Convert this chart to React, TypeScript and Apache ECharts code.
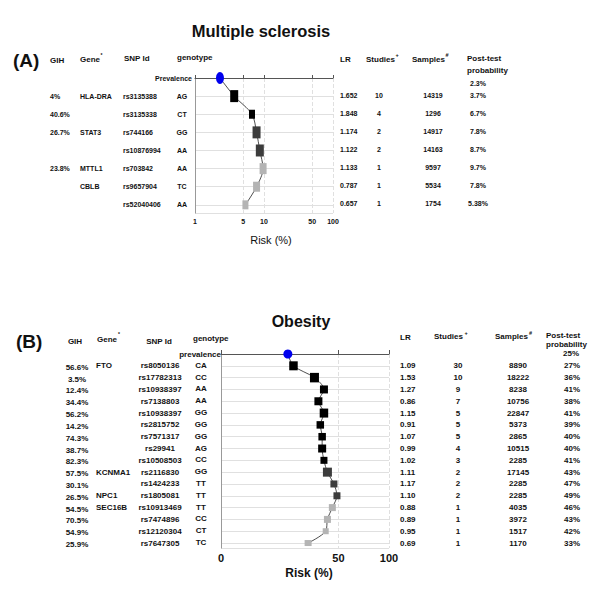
import React, { useEffect, useRef } from 'react';
import * as echarts from 'echarts';

// ---------- Panel A: Multiple sclerosis ----------
const msPrevalence = 2.3;
const msGIH = ['4%', '40.6%', '26.7%', '', '23.8%', '', ''];
const msGene = ['HLA-DRA', '', 'STAT3', '', 'MTTL1', 'CBLB', ''];
const msSNP = ['rs3135388', 'rs3135338', 'rs744166', 'rs10876994', 'rs703842', 'rs9657904', 'rs52040406'];
const msGenotype = ['AG', 'CT', 'GG', 'AA', 'AA', 'TC', 'AA'];
const msLR = ['1.652', '1.848', '1.174', '1.122', '1.133', '0.787', '0.657'];
const msStudies = [10, 4, 2, 2, 1, 1, 1];
const msSamples = [14319, 1296, 14917, 14163, 9597, 5534, 1754];
const msPost = [3.7, 6.7, 7.8, 8.7, 9.7, 7.8, 5.38];
const msTicks = [1, 5, 10, 50, 100];

// ---------- Panel B: Obesity ----------
const obPrevalence = 25;
const obGIH = ['56.6%', '3.5%', '12.4%', '34.4%', '56.2%', '14.2%', '74.3%', '38.7%', '82.3%', '57.5%', '30.1%', '26.5%', '54.5%', '70.5%', '54.9%', '25.9%'];
const obGene = ['FTO', '', '', '', '', '', '', '', '', 'KCNMA1', '', 'NPC1', 'SEC16B', '', '', ''];
const obSNP = ['rs8050136', 'rs17782313', 'rs10938397', 'rs7138803', 'rs10938397', 'rs2815752', 'rs7571317', 'rs29941', 'rs10508503', 'rs2116830', 'rs1424233', 'rs1805081', 'rs10913469', 'rs7474896', 'rs12120304', 'rs7647305'];
const obGenotype = ['CA', 'CC', 'AA', 'AA', 'GG', 'GG', 'GG', 'AG', 'CC', 'GG', 'TT', 'TT', 'TT', 'CC', 'CT', 'TC'];
const obLR = ['1.09', '1.53', '1.27', '0.86', '1.15', '0.91', '1.07', '0.99', '1.02', '1.11', '1.17', '1.10', '0.88', '0.89', '0.95', '0.69'];
const obStudies = [30, 10, 9, 7, 5, 5, 5, 4, 3, 2, 2, 2, 1, 1, 1, 1];
const obSamples = [8890, 18222, 8238, 10756, 22847, 5373, 2865, 10515, 2285, 17145, 2285, 2285, 4035, 3972, 1517, 1170];
const obPost = [27, 36, 41, 38, 41, 39, 40, 40, 41, 43, 47, 49, 46, 43, 42, 33];
const obTicks = [10, 50, 100];

// ---------- marker styling (prevalence first) ----------
const msShade = ['blue', 'black', 'black', 'dark', 'dark', 'light', 'light', 'light'];
const msMarkW = [8, 8, 6, 8, 8, 7, 7, 6];
const msMarkH = [12, 12, 9, 12, 12, 11, 10, 9];
const obShade = ['blue', 'black', 'black', 'black', 'black', 'black', 'black', 'black', 'black', 'black', 'dark', 'dark', 'dark', 'light', 'light', 'light', 'light'];
const obMarkW = [9, 8.5, 9, 8, 8, 8.5, 7.5, 7.5, 8, 7, 9, 7, 7, 7, 7, 6, 7];
const obMarkH = [9, 9, 9.5, 8, 8, 9, 7.5, 7.5, 8, 7, 9, 7, 7, 7, 7, 6, 6];

const SHADE: Record<string, string> = { blue: '#0000ee', black: '#000000', dark: '#3c3c3c', light: '#b4b4b4' };
const FONT = '"Liberation Sans", Arial, sans-serif';

// layout
const A = { left: 195, top: 78, width: 138, height: 135, ymax: 7.45 };
const B = { left: 221, top: 354, width: 168, height: 194, ymax: 16.42 };

function txt(x: number, y: number, text: string, size: number, align = 'left', weight = 'bold', color = '#111') {
  return {
    type: 'text',
    x,
    y,
    silent: true,
    style: {
      text,
      font: `${weight} ${size}px ${FONT}`,
      fill: color,
      align,
      verticalAlign: 'middle',
      textAlign: align,
      textVerticalAlign: 'middle',
    },
  };
}

function buildPoints(prev: number, post: number[], shade: string[], w: number[], h: number[]) {
  return [prev, ...post].map((v, i) => ({
    value: [v, i],
    symbol: i === 0 ? 'circle' : 'rect',
    symbolSize: [w[i], h[i]],
    itemStyle: { color: SHADE[shade[i]], opacity: 1 },
  }));
}

export default function App() {
  const ref = useRef<HTMLDivElement>(null);

  useEffect(() => {
    const chart = echarts.init(ref.current!, null, { renderer: 'svg' });

    const rowA = (i: number) => A.top + (i * A.height) / A.ymax;
    const rowB = (i: number) => B.top + (i * B.height) / B.ymax;

    const g: any[] = [];
    // titles
    g.push(txt(261, 31, 'Multiple sclerosis', 16.5, 'center'));
    g.push(txt(301, 321, 'Obesity', 16, 'center'));
    g.push(txt(13, 60, '(A)', 19));
    g.push(txt(16, 341, '(B)', 19));

    // ---- panel A headers ----
    g.push(txt(50, 60, 'GIH', 8));
    g.push(txt(80, 59, 'Gene', 8));
    g.push(txt(100.5, 55, '*', 5));
    g.push(txt(124, 58, 'SNP Id', 8));
    g.push(txt(177, 57, 'genotype', 8));
    g.push(txt(340, 59, 'LR', 8));
    g.push(txt(366, 59, 'Studies', 8));
    g.push(txt(395.5, 55, '+', 5.5));
    g.push(txt(412, 59, 'Samples', 8));
    g.push(txt(445.5, 55, '#', 5.5));
    g.push(txt(467, 58, 'Post-test', 8));
    g.push(txt(467, 70, 'probability', 8));
    g.push(txt(192, rowA(0), 'Prevalence', 7, 'right'));
    g.push(txt(478, rowA(0) + 5, `${msPrevalence}%`, 7, 'center'));
    msSNP.forEach((snp, k) => {
      const y = rowA(k + 1);
      if (msGIH[k]) g.push(txt(50, y, msGIH[k], 7));
      if (msGene[k]) g.push(txt(80, y, msGene[k], 7));
      g.push(txt(123, y, snp, 7));
      g.push(txt(182, y, msGenotype[k], 7, 'center'));
      g.push(txt(340, y - 1, msLR[k], 7));
      g.push(txt(379, y - 1, String(msStudies[k]), 7, 'center'));
      g.push(txt(433, y - 1, String(msSamples[k]), 7, 'center'));
      g.push(txt(478, y - 1, `${msPost[k]}%`, 7, 'center'));
    });
    g.push(txt(271, 240, 'Risk (%)', 11, 'center', 'normal'));

    // ---- panel B headers ----
    g.push(txt(75, 341, 'GIH', 8, 'center'));
    g.push(txt(97, 339, 'Gene', 8));
    g.push(txt(118, 334, '*', 5));
    g.push(txt(159, 341, 'SNP Id', 8, 'center'));
    g.push(txt(193, 338, 'genotype', 8));
    g.push(txt(400, 337, 'LR', 8));
    g.push(txt(434, 336, 'Studies', 8));
    g.push(txt(464.5, 333, '+', 5.5));
    g.push(txt(495, 336, 'Samples', 8));
    g.push(txt(529, 333, '#', 5.5));
    g.push(txt(546, 335, 'Post-test', 8));
    g.push(txt(546, 344, 'probability', 8));
    g.push(txt(221, rowB(0), 'prevalence', 8, 'right'));
    g.push(txt(571, rowB(0) - 1, `${obPrevalence}%`, 8, 'center'));
    obSNP.forEach((snp, k) => {
      const y = rowB(k + 1);
      g.push(txt(77, y + 1.5, obGIH[k], 8, 'center'));
      if (obGene[k]) g.push(txt(96, y, obGene[k], 8));
      g.push(txt(160, y, snp, 8, 'center'));
      g.push(txt(201, y - 0.5, obGenotype[k], 8, 'center'));
      g.push(txt(400, y, obLR[k], 8));
      g.push(txt(458, y, String(obStudies[k]), 8, 'center'));
      g.push(txt(518, y, String(obSamples[k]), 8, 'center'));
      g.push(txt(572, y, `${obPost[k]}%`, 8, 'center'));
    });
    g.push(txt(309, 573, 'Risk (%)', 12, 'center'));

    const yAxisCommon = (gridIndex: number, ymax: number) => ({
      type: 'value',
      gridIndex,
      inverse: true,
      min: 0,
      max: ymax,
      interval: 1,
      axisLabel: { show: false },
      axisTick: { show: false },
      axisLine: { show: true, lineStyle: { color: '#999', width: 1 } },
      splitLine: { show: true, lineStyle: { color: '#e0e0e0', width: 1 } },
    });

    const option: any = {
      animation: false,
      backgroundColor: '#ffffff',
      grid: [
        { left: A.left, top: A.top, width: A.width, height: A.height },
        { left: B.left, top: B.top, width: B.width, height: B.height },
      ],
      xAxis: [
        {
          type: 'log',
          gridIndex: 0,
          logBase: 10,
          min: 1,
          max: 100,
          axisLine: { show: true, lineStyle: { color: '#555', width: 1 } },
          axisTick: { show: true, inside: true, length: 3, customValues: msTicks, lineStyle: { color: '#555' } },
          axisLabel: {
            customValues: msTicks,
            fontSize: 7,
            fontWeight: 'bold',
            fontFamily: FONT,
            color: '#111',
            margin: 5,
          },
          splitLine: { show: true, lineStyle: { color: '#e0e0e0', type: 'dashed', width: 1 } },
          minorSplitLine: { show: false },
        },
        {
          type: 'log',
          gridIndex: 1,
          logBase: 10,
          min: 10,
          max: 100,
          axisLine: { show: true, lineStyle: { color: '#555', width: 1 } },
          axisTick: { show: true, inside: true, length: 4, customValues: obTicks, lineStyle: { color: '#555' } },
          axisLabel: {
            customValues: obTicks,
            fontSize: 11,
            fontWeight: 'bold',
            fontFamily: FONT,
            color: '#111',
            margin: 4,
            formatter: (v: number) => (Math.abs(v - 10) < 1e-6 ? '0' : String(Math.round(v))),
          },
          splitLine: { show: true, lineStyle: { color: '#e0e0e0', type: 'dashed', width: 1 } },
        },
      ],
      yAxis: [yAxisCommon(0, A.ymax), yAxisCommon(1, B.ymax)],
      series: [
        {
          type: 'line',
          xAxisIndex: 0,
          yAxisIndex: 0,
          smooth: 0.3,
          showSymbol: true,
          lineStyle: { color: '#222', width: 0.8 },
          data: buildPoints(msPrevalence, msPost, msShade, msMarkW, msMarkH),
          z: 3,
        },
        {
          type: 'line',
          xAxisIndex: 1,
          yAxisIndex: 1,
          smooth: 0.3,
          showSymbol: true,
          lineStyle: { color: '#222', width: 0.8 },
          data: buildPoints(obPrevalence, obPost, obShade, obMarkW, obMarkH),
          z: 3,
        },
      ],
      graphic: g,
    };

    chart.setOption(option);
    return () => chart.dispose();
  }, []);

  return (
    <div
      ref={ref}
      style={{ position: 'fixed', left: 0, top: 0, width: 600, height: 600, background: '#fff' }}
    />
  );
}
